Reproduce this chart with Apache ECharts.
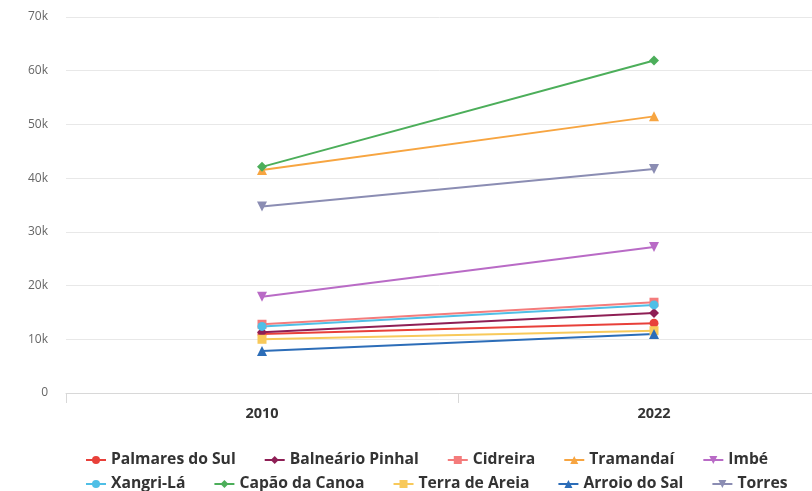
<!DOCTYPE html>
<html><head><meta charset="utf-8">
<script src="https://cdn.jsdelivr.net/npm/echarts@6/dist/echarts.min.js"></script>
<style>html,body{margin:0;padding:0;background:#fff}#c{width:812px;height:491px}</style>
</head><body><div id="c"></div>
<script>
const categories = ['2010', '2022'];
const yTicks = [0, 10000, 20000, 30000, 40000, 50000, 60000, 70000];
const palmaresDoSul = [11000, 13000];
const balnearioPinhal = [11300, 14900];
const cidreira = [12800, 16900];
const tramandai = [41500, 51500];
const imbe = [17900, 27200];
const xangriLa = [12400, 16400];
const capaoDaCanoa = [42100, 61900];
const terraDeAreia = [10000, 11600];
const arroioDoSal = [7800, 11000];
const torres = [34700, 41700];

const seriesDefs = [
  ['Palmares do Sul', palmaresDoSul, '#e8403a', 'circle', 0],
  ['Balneário Pinhal', balnearioPinhal, '#8e1f55', 'diamond', 0],
  ['Cidreira', cidreira, '#f47c7c', 'rect', 0],
  ['Tramandaí', tramandai, '#f7a541', 'triangle', 0],
  ['Imbé', imbe, '#b96bc6', 'triangle', 180],
  ['Xangri-Lá', xangriLa, '#4fbfe6', 'circle', 0],
  ['Capão da Canoa', capaoDaCanoa, '#4cae5a', 'diamond', 0],
  ['Terra de Areia', terraDeAreia, '#f8c95a', 'rect', 0],
  ['Arroio do Sal', arroioDoSal, '#2c6db8', 'triangle', 0],
  ['Torres', torres, '#8b8db3', 'triangle', 180]
];

const chart = echarts.init(document.getElementById('c'), null, {renderer: 'canvas'});
const font = '"Open Sans", "DejaVu Sans", sans-serif';
const legendCommon = {
  itemWidth: 20, itemHeight: 10, itemGap: 28, padding: 0,
  textStyle: {fontFamily: font, fontSize: 15.7, fontWeight: 'bold', color: '#333'},
  left: 85
};
chart.setOption({
  animation: false,
  backgroundColor: '#fff',
  grid: {left: 66, width: 784, top: 17, bottom: 98, outerBoundsMode: 'none'},
  legend: [
    Object.assign({}, legendCommon, {top: 452, data: seriesDefs.slice(0, 5).map(d => d[0])}),
    Object.assign({}, legendCommon, {top: 476, data: seriesDefs.slice(5).map(d => d[0])})
  ],
  xAxis: {
    type: 'category', data: categories, boundaryGap: true,
    axisLine: {lineStyle: {color: '#d8d8d8', width: 1}},
    axisTick: {show: true, length: 10, lineStyle: {color: '#d8d8d8'}},
    axisLabel: {fontFamily: font, fontSize: 14.5, fontWeight: 'bold', color: '#333', margin: 13}
  },
  yAxis: {
    type: 'value', min: yTicks[0], max: yTicks[yTicks.length - 1], interval: 10000,
    axisLine: {show: false}, axisTick: {show: false},
    splitLine: {lineStyle: {color: '#e8e8e8', width: 1}},
    axisLabel: {fontFamily: font, fontSize: 12, color: '#666', margin: 18,
      formatter: v => v === 0 ? '0' : (v / 1000) + 'k'}
  },
  series: seriesDefs.map(d => ({
    name: d[0], type: 'line', data: d[1],
    symbol: d[3], symbolSize: d[3] === 'rect' ? 9 : (d[3] === 'circle' ? 9 : 10), symbolRotate: d[4],
    showSymbol: true,
    lineStyle: {color: d[2], width: 2},
    itemStyle: {color: d[2]}
  }))
});
</script></body></html>
